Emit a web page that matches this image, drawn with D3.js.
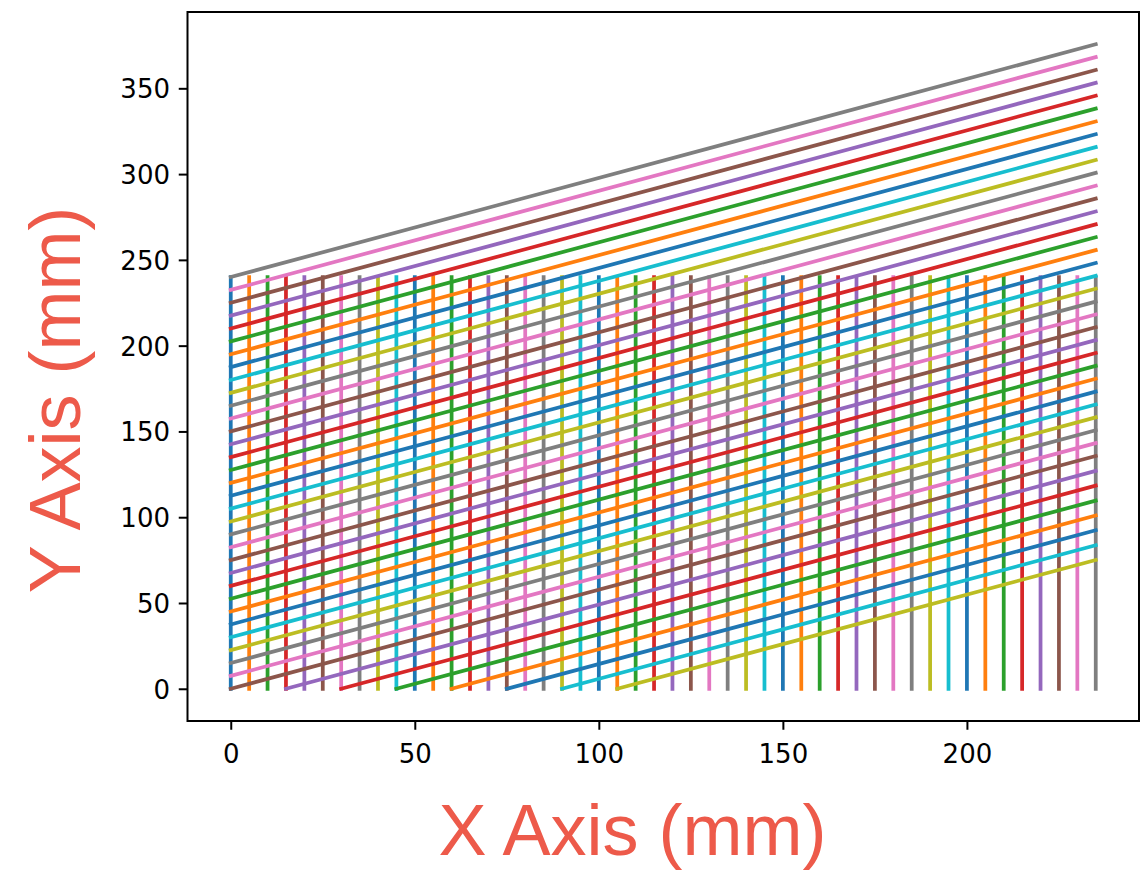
<!DOCTYPE html>
<html>
<head>
<meta charset="utf-8">
<script src="https://cdn.jsdelivr.net/npm/d3@7"></script>
<style>
  html, body { margin: 0; padding: 0; background: #fff; }
  .tick text { font-family: "DejaVu Sans", sans-serif; font-size: 26px; fill: #000; }
  .axis-title { font-family: "Liberation Sans", Arial, sans-serif; font-size: 72px; fill: #ed5a4a; }
</style>
</head>
<body>
<svg id="chart"></svg>
<script>
'use strict';

// vertical passes: x positions (mm), all running from y=0 to y=240
var verticalX = [0, 5, 10, 15, 20, 25, 30, 35, 40, 45, 50, 55, 60, 65, 70, 75, 80, 85, 90, 95,
  100, 105, 110, 115, 120, 125, 130, 135, 140, 145, 150, 155, 160, 165, 170, 175, 180, 185, 190, 195,
  200, 205, 210, 215, 220, 225, 230, 235];
var verticalY = [0, 240];

// slanted passes, in drawing order: start point and end height (end x is always 235)
var hatchX0 = [105, 90, 75, 60, 45, 30, 15,
  0, 0, 0, 0, 0, 0, 0, 0, 0, 0, 0, 0, 0, 0, 0, 0, 0, 0, 0, 0, 0, 0, 0, 0, 0, 0, 0, 0, 0, 0, 0, 0, 0];
var hatchY0 = [0, 0, 0, 0, 0, 0, 0,
  0, 7.5, 15, 22.5, 30, 37.5, 45, 52.5, 60, 67.5, 75, 82.5, 90, 97.5, 105, 112.5, 120, 127.5,
  135, 142.5, 150, 157.5, 165, 172.5, 180, 187.5, 195, 202.5, 210, 217.5, 225, 232.5, 240];
var hatchX1 = 235;
var hatchY1 = [75.1, 83.7, 92.4, 101.0, 109.7, 118.4, 127.0,
  135.7, 143.2, 150.7, 158.2, 165.7, 173.2, 180.7, 188.2, 195.7, 203.2, 210.7, 218.2, 225.7, 233.2,
  240.7, 248.2, 255.7, 263.2, 270.7, 278.2, 285.7, 293.2, 300.7, 308.2, 315.7, 323.2, 330.7, 338.2,
  345.7, 353.2, 360.7, 368.2, 375.7];

var xTicks = [0, 50, 100, 150, 200];
var yTicks = [0, 50, 100, 150, 200, 250, 300, 350];

var canvasWidth = 1145,
  canvasHeight = 871,
  frame = { left: 187.5, right: 1139, top: 12, bottom: 721 },
  lineWidth = 3.75,
  colors = d3.schemeCategory10;

var svg = d3.select('#chart')
  .attr('width', canvasWidth)
  .attr('height', canvasHeight);

// build segments from the arrays above
var segments = [];
verticalX.forEach(function(x) {
  segments.push({ x0: x, y0: verticalY[0], x1: x, y1: verticalY[1] });
});
hatchY1.forEach(function(y1, i) {
  segments.push({ x0: hatchX0[i], y0: hatchY0[i], x1: hatchX1, y1: y1 });
});

// matplotlib style auto limits with 5% margins
var xMin = d3.min(segments, function(d) { return Math.min(d.x0, d.x1); }),
  xMax = d3.max(segments, function(d) { return Math.max(d.x0, d.x1); }),
  yMin = d3.min(segments, function(d) { return Math.min(d.y0, d.y1); }),
  yMax = d3.max(segments, function(d) { return Math.max(d.y0, d.y1); }),
  xPad = (xMax - xMin) * 0.05,
  yPad = (yMax - yMin) * 0.05;

var xScale = d3.scaleLinear()
  .domain([xMin - xPad, xMax + xPad])
  .range([frame.left, frame.right]);
var yScale = d3.scaleLinear()
  .domain([yMin - yPad, yMax + yPad])
  .range([frame.bottom, frame.top]);

var plotArea = svg.append('g');
plotArea.append('clipPath')
    .attr('id', 'clip')
  .append('rect')
    .attr('x', frame.left)
    .attr('y', frame.top)
    .attr('width', frame.right - frame.left)
    .attr('height', frame.bottom - frame.top);

plotArea.append('g')
    .attr('clip-path', 'url(#clip)')
  .selectAll('line')
  .data(segments)
  .enter().append('line')
    .attr('x1', function(d) { return xScale(d.x0); })
    .attr('y1', function(d) { return yScale(d.y0); })
    .attr('x2', function(d) { return xScale(d.x1); })
    .attr('y2', function(d) { return yScale(d.y1); })
    .attr('stroke', function(d, i) { return colors[i % 10]; })
    .attr('stroke-width', lineWidth)
    .attr('stroke-linecap', 'square');

// axes
var xAxis = svg.append('g')
  .attr('transform', 'translate(0,' + frame.bottom + ')')
  .call(d3.axisBottom(xScale).tickValues(xTicks).tickFormat(d3.format('d'))
    .tickSize(8.75).tickPadding(8.75));
var yAxis = svg.append('g')
  .attr('transform', 'translate(' + frame.left + ',0)')
  .call(d3.axisLeft(yScale).tickValues(yTicks).tickFormat(d3.format('d'))
    .tickSize(8.75).tickPadding(8.75));

[xAxis, yAxis].forEach(function(ax) {
  ax.select('.domain').remove();
  ax.selectAll('.tick line').attr('stroke', '#000').attr('stroke-width', 2);
  ax.selectAll('.tick text').attr('font-family', null).attr('font-size', null);
});
// baseline of x tick labels about 42px below the spine
xAxis.selectAll('.tick text').attr('y', 42).attr('dy', null);
yAxis.selectAll('.tick text').attr('dy', '0.36em');

// frame
svg.append('rect')
  .attr('x', frame.left)
  .attr('y', frame.top)
  .attr('width', frame.right - frame.left)
  .attr('height', frame.bottom - frame.top)
  .attr('fill', 'none')
  .attr('stroke', '#000')
  .attr('stroke-width', 2);

// axis titles
svg.append('text')
  .attr('class', 'axis-title')
  .attr('x', 632.5)
  .attr('y', 855)
  .attr('text-anchor', 'middle')
  .text('X Axis (mm)');

svg.append('text')
  .attr('class', 'axis-title')
  .attr('transform', 'translate(80,400) rotate(-90)')
  .attr('text-anchor', 'middle')
  .text('Y Axis (mm)');
</script>
</body>
</html>
